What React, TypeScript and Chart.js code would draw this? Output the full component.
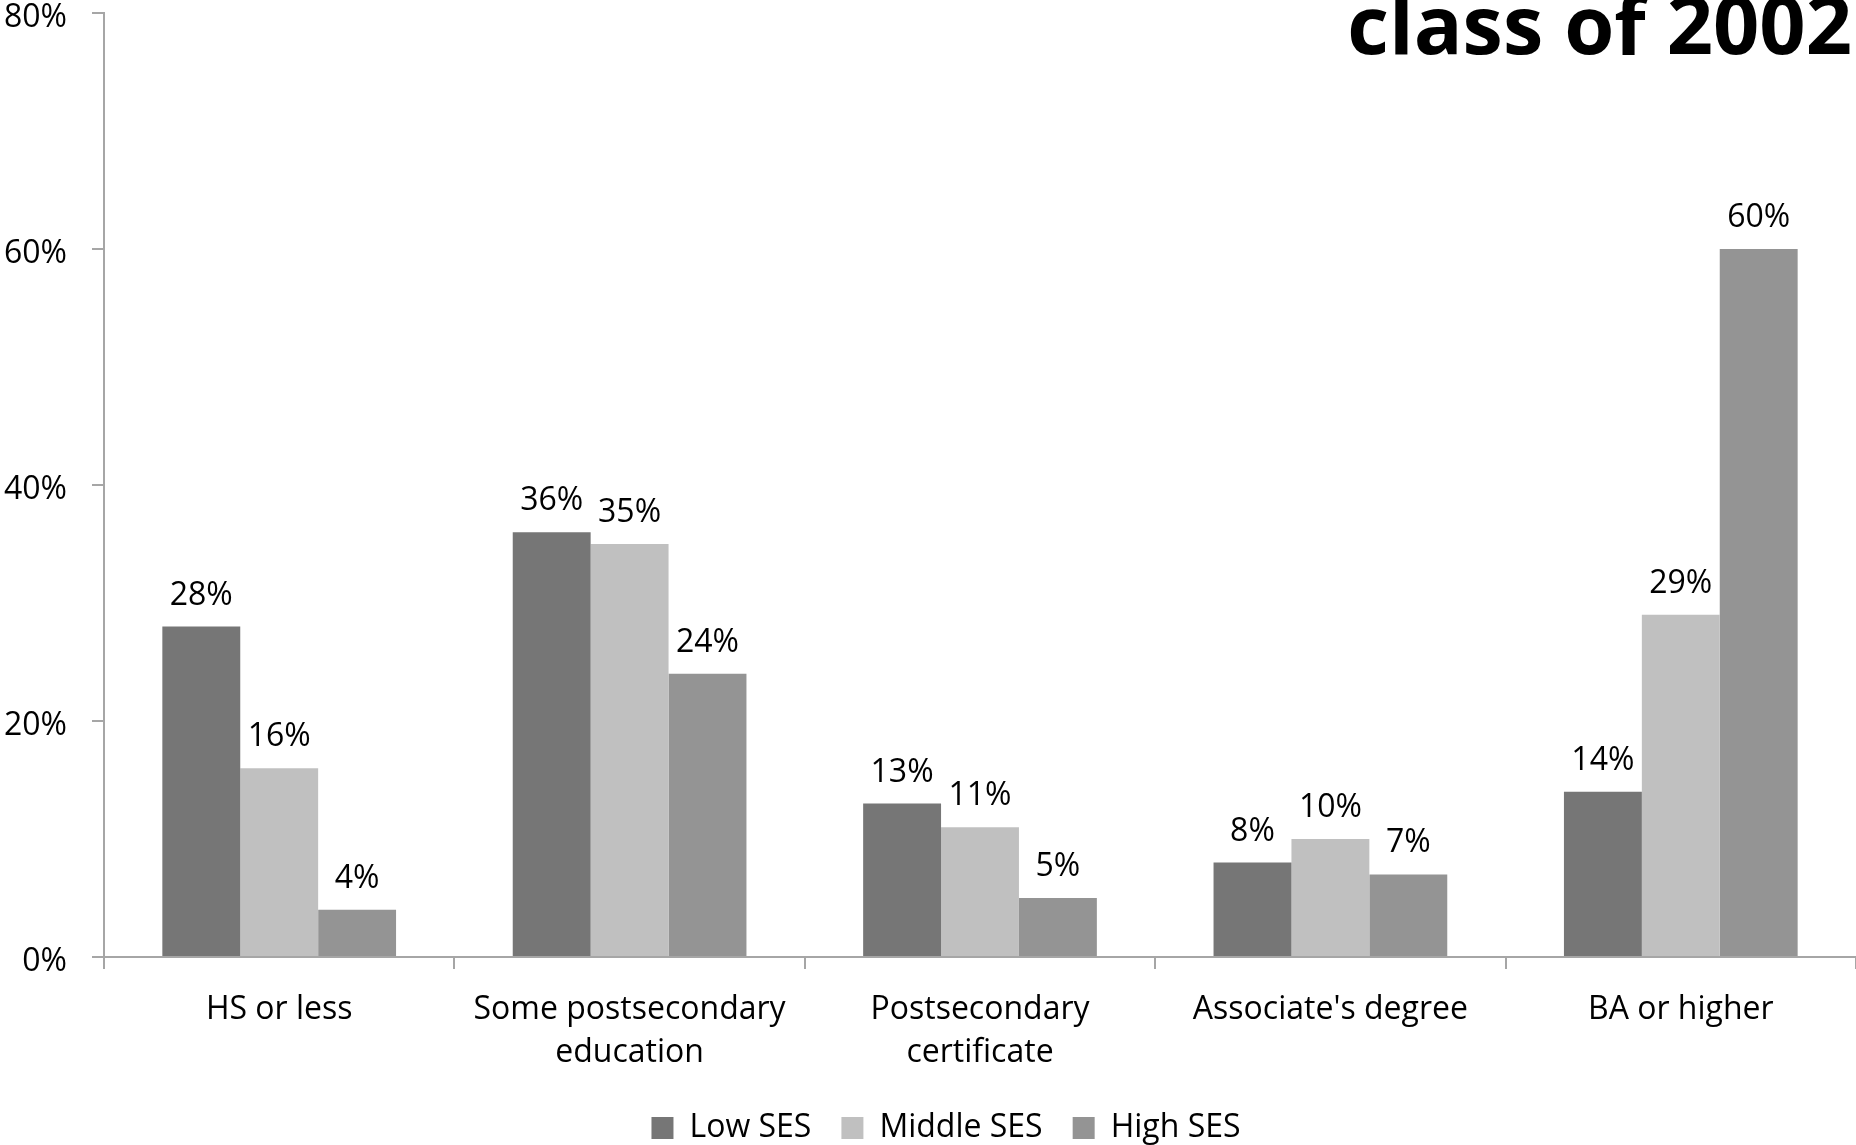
import React, { useEffect, useRef } from "react";
import { Chart, registerables } from "chart.js";

Chart.register(...registerables);

const categories: (string | string[])[] = [
  "HS or less",
  ["Some postsecondary", "education"],
  ["Postsecondary", "certificate"],
  "Associate's degree",
  "BA or higher",
];
const lowSES = [28, 36, 13, 8, 14];
const middleSES = [16, 35, 11, 10, 29];
const highSES = [4, 24, 5, 7, 60];
const seriesNames = ["Low SES", "Middle SES", "High SES"];
const yTicks = [0, 20, 40, 60, 80];
const titleText = "class of 2002";

const FONT = "'Open Sans', sans-serif";

const dataLabelPlugin = {
  id: "dataLabels",
  afterDatasetsDraw(chart: any) {
    const ctx = chart.ctx;
    ctx.save();
    ctx.font = `32px ${FONT}`;
    ctx.fillStyle = "#000";
    ctx.textAlign = "center";
    ctx.textBaseline = "alphabetic";
    chart.data.datasets.forEach((ds: any, di: number) => {
      const meta = chart.getDatasetMeta(di);
      meta.data.forEach((el: any, i: number) => {
        ctx.fillText(`${ds.data[i]}%`, el.x, el.y - 22);
      });
    });
    ctx.restore();
  },
};

const titlePlugin = {
  id: "cornerTitle",
  afterDraw(chart: any) {
    const ctx = chart.ctx;
    ctx.save();
    ctx.font = `bold 81px ${FONT}`;
    ctx.fillStyle = "#000";
    ctx.textAlign = "right";
    ctx.textBaseline = "alphabetic";
    ctx.fillText(titleText, chart.width - 4, 54);
    ctx.restore();
  },
};

const legendShiftPlugin = {
  id: "legendShift",
  afterLayout(chart: any) {
    const lg = chart.legend;
    if (lg) {
      lg.left += 18;
      lg.right += 18;
    }
  },
};

export default function App() {
  const ref = useRef<HTMLCanvasElement | null>(null);

  useEffect(() => {
    if (!ref.current) return;
    const chart = new Chart(ref.current, {
      type: "bar",
      data: {
        labels: categories,
        datasets: [
          { label: seriesNames[0], data: lowSES, backgroundColor: "#767676" },
          { label: seriesNames[1], data: middleSES, backgroundColor: "#c0c0c0" },
          { label: seriesNames[2], data: highSES, backgroundColor: "#949494" },
        ],
      },
      options: {
        animation: false,
        responsive: true,
        maintainAspectRatio: false,
        layout: { padding: { top: 0, left: 0, right: 0, bottom: -9 } },
        datasets: {
          bar: { categoryPercentage: 0.667, barPercentage: 1.0, borderWidth: 0 },
        },
        plugins: {
          legend: {
            position: "bottom",
            labels: {
              font: { family: FONT, size: 32 },
              color: "#000",
              boxWidth: 22,
              boxHeight: 22,
              padding: 30,
            },
          },
          tooltip: { enabled: false },
          title: { display: false },
        },
        scales: {
          x: {
            grid: {
              offset: true,
              drawOnChartArea: false,
              drawTicks: true,
              tickLength: 12,
              color: "#a6a6a6",
              lineWidth: 2,
            },
            border: { color: "#a6a6a6", width: 2 },
            ticks: {
              font: { family: FONT, size: 32, lineHeight: 1.33 },
              color: "#000",
              padding: 20,
              maxRotation: 0,
              autoSkip: false,
            },
            afterFit: (scale: any) => {
              scale.height = 125;
            },
          },
          y: {
            min: 0,
            max: 80,
            afterBuildTicks: (scale: any) => {
              scale.ticks = yTicks.map((v) => ({ value: v }));
            },
            grid: {
              drawOnChartArea: false,
              drawTicks: true,
              tickLength: 12,
              color: "#a6a6a6",
              lineWidth: 2,
            },
            border: { color: "#a6a6a6", width: 2 },
            ticks: {
              font: { family: FONT, size: 32 },
              color: "#000",
              padding: 25,
              labelOffset: 5,
              callback: (v: any) => `${v}%`,
            },
            afterFit: (scale: any) => {
              scale.width = 104;
              scale.paddingTop = 13;
              scale.paddingBottom = 0;
            },
          },
        },
      },
      plugins: [dataLabelPlugin, titlePlugin, legendShiftPlugin],
    });
    return () => chart.destroy();
  }, []);

  return (
    <div
      style={{
        position: "fixed",
        left: 0,
        top: 0,
        width: "1856px",
        height: "1145px",
        background: "#fff",
      }}
    >
      <canvas ref={ref} />
    </div>
  );
}
